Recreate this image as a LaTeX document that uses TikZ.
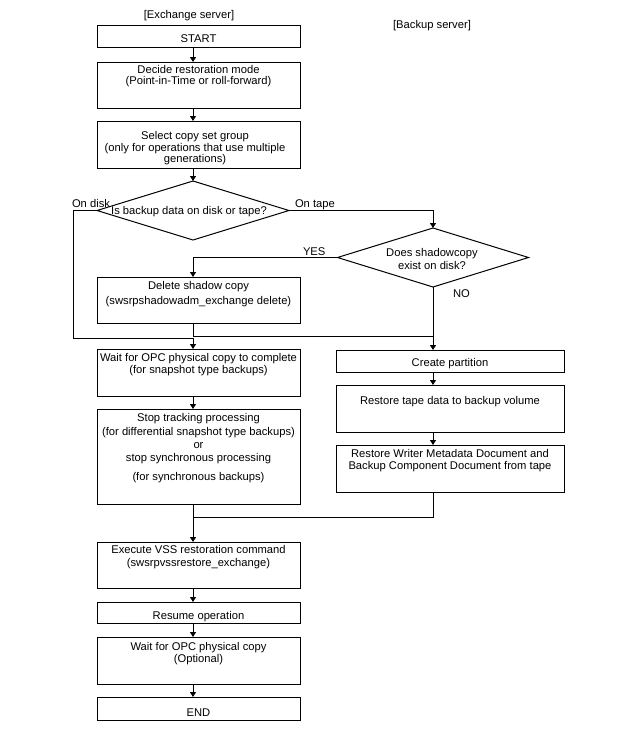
\documentclass[tikz,border=0pt]{standalone}
\usepackage{fontspec}
\setmainfont{Liberation Sans}
\usetikzlibrary{arrows.meta,shapes.geometric}
\begin{document}
\begin{tikzpicture}[x=1pt,y=-1pt,
  line width=1pt,
  box/.style={draw, rectangle, inner sep=0pt, outer sep=0pt, anchor=north west},
  dia/.style={draw, diamond, inner sep=0pt, outer sep=0pt},
  txt/.style={inner sep=0pt, outer sep=0pt, anchor=north, align=center,
     font=\fontsize{11.2}{12.5}\selectfont, execute at begin node=\strut},
  lbl/.style={inner sep=0pt, outer sep=0pt, anchor=base west,
     font=\fontsize{11.2}{12.5}\selectfont},
  arr/.style={-{Triangle[length=5pt,width=6pt]}},
  ln/.style={-}
]
\useasboundingbox (0,0) rectangle (637,745);
\coordinate (colx) at (193,0);
\coordinate (colr) at (433,0);
% boxes
\node[box, minimum width=203, minimum height=22] (start) at (97,25) {};
\node[box, minimum width=203, minimum height=46] (decide) at (97,62) {};
\node[box, minimum width=203, minimum height=47] (select) at (97,121) {};
\node[dia, minimum width=192, minimum height=59] (d1) at (193,210.5) {};
\node[dia, minimum width=191, minimum height=59] (d2) at (433,257.5) {};
\node[box, minimum width=203, minimum height=46] (delete) at (97,277) {};
\node[box, minimum width=203, minimum height=47] (wait) at (97,349) {};
\node[box, minimum width=203, minimum height=95] (stop) at (97,409) {};
\node[box, minimum width=228, minimum height=22] (create) at (336,350) {};
\node[box, minimum width=228, minimum height=47] (restape) at (336,385) {};
\node[box, minimum width=228, minimum height=47] (reswriter) at (336,445) {};
\node[box, minimum width=203, minimum height=46] (execute) at (97,542) {};
\node[box, minimum width=203, minimum height=21] (resume) at (97,602) {};
\node[box, minimum width=203, minimum height=47] (wait2) at (97,637) {};
\node[box, minimum width=203, minimum height=23] (end) at (97,697) {};
% texts
\node[txt] (exlabel) at (189,18.5-8.75) {[Exchange server]};
\node[txt] (bklabel) at (432,28.5-8.75) {[Backup server]};
\node[txt] (tstart) at (198.5,42.5-8.75) {START};
\node[txt] (tdecide) at (198.5,74.5-8.75) {Decide restoration mode\\[-1.5pt](Point-in-Time or roll-forward)};
\node[txt] (tselect) at (195,140.5-8.75) {Select copy set group\\[-1pt](only for operations that use multiple\\[-1pt]generations)};
\node[txt] (td1) at (189,214.5-8.75) {Is backup data on disk or tape?};
\node[txt] (td2) at (432,257-8.75) {Does shadowcopy\\[0.5pt]exist on disk?};
\node[txt] (tdelete) at (198.5,290.5-8.75) {Delete shadow copy\\[2.5pt](swsrpshadowadm\_exchange delete)};
\node[txt] (twait) at (198.5,362-8.75) {Wait for OPC physical copy to complete\\(for snapshot type backups)};
\node[txt] (tstop) at (198.5,422-8.75) {Stop tracking processing\\[1.5pt](for differential snapshot type backups)\\[0.5pt]or\\[0.5pt]stop synchronous processing\\[6.5pt](for synchronous backups)};
\node[txt] (tcreate) at (450,366-8.75) {Create partition};
\node[txt] (trestape) at (450,404.5-8.75) {Restore tape data to backup volume};
\node[txt] (treswriter) at (450,458.5-8.75) {Restore Writer Metadata Document and\\[-0.5pt]Backup Component Document from tape};
\node[txt] (texecute) at (198.5,554.5-8.75) {Execute VSS restoration command\\[0.5pt](swsrpvssrestore\_exchange)};
\node[txt] (tresume) at (198.5,619.5-8.75) {Resume operation};
\node[txt] (twait2) at (198.5,651-8.75) {Wait for OPC physical copy\\(Optional)};
\node[txt] (tend) at (198.5,716-8.75) {END};
% branch labels
\node[lbl] (ondisk) at (72,207.5) {On disk};
\node[lbl] (ontape) at (295,207.5) {On tape};
\node[lbl] (yes) at (303,255) {YES};
\node[lbl] (no) at (453,297) {NO};
% helper coordinates
\coordinate (dl) at (73,338);
\coordinate (jn) at (433,336);
\coordinate (j2) at (433,517);
% connectors
\draw[arr] (start.south -| colx) -- (decide.north -| colx);
\draw[arr] (decide.south -| colx) -- (select.north -| colx);
\draw[arr] (select.south -| colx) -- (d1.north);
\draw[arr] (d1.west) -| (dl) -- (dl -| colx) -- (wait.north -| colx);
\draw[arr] (d1.east) -| (d2.north);
\draw[arr] (d2.west) -| (delete.north -| colx);
\draw[arr] (d2.south) -- (create.north -| colr);
\draw[ln] (delete.south -| colx) |- (jn);
\draw[arr] (wait.south -| colx) -- (stop.north -| colx);
\draw[arr] (stop.south -| colx) -- (execute.north -| colx);
\draw[arr] (create.south -| colr) -- (restape.north -| colr);
\draw[arr] (restape.south -| colr) -- (reswriter.north -| colr);
\draw[ln] (reswriter.south -| colr) -- (j2) -- (j2 -| colx);
\draw[arr] (execute.south -| colx) -- (resume.north -| colx);
\draw[arr] (resume.south -| colx) -- (wait2.north -| colx);
\draw[arr] (wait2.south -| colx) -- (end.north -| colx);
\end{tikzpicture}
\end{document}
